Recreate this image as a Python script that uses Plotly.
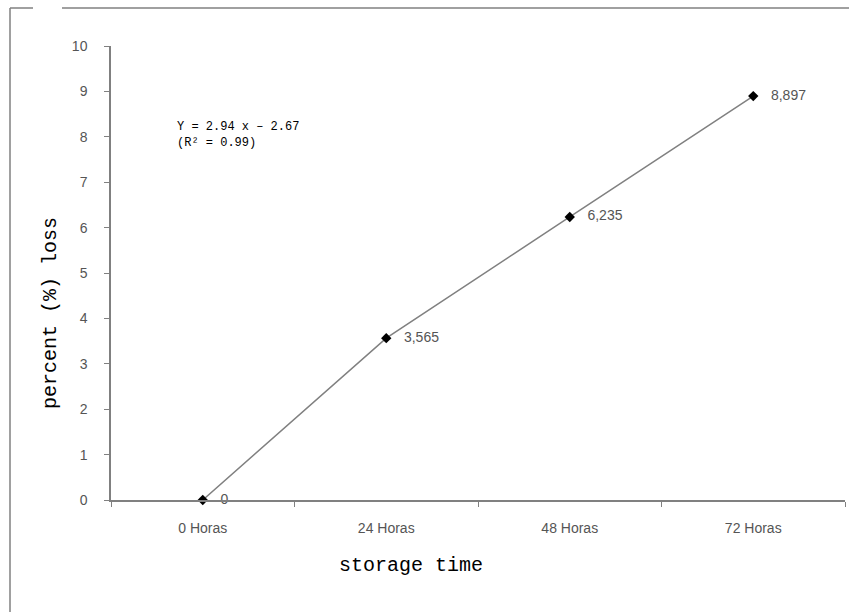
import plotly.graph_objects as go

categories = ["0 Horas", "24 Horas", "48 Horas", "72 Horas"]
loss = [0, 3.565, 6.235, 8.897]
labels = ["0", "3,565", "6,235", "8,897"]
y_ticks = list(range(0, 11))

fig = go.Figure()
fig.add_trace(go.Scatter(
    x=categories, y=loss, mode="lines+markers+text",
    line=dict(color="#808080", width=1.5),
    marker=dict(symbol="diamond", size=8, color="black"),
    text=["   " + t for t in labels], textposition="middle right",
    textfont=dict(family="Liberation Sans, Arial", size=14, color="#555555"),
    cliponaxis=False, showlegend=False,
))

fig.update_xaxes(
    type="category", range=[-0.5, 3.5], tickson="boundaries",
    ticks="outside", ticklen=5, tickcolor="#808080", ticklabelstandoff=14,
    showline=True, linecolor="#808080", linewidth=1.5,
    showgrid=False, zeroline=False,
    tickfont=dict(family="Liberation Sans, Arial", size=14, color="#555555"),
)
fig.update_yaxes(
    range=[0, 10], tickvals=y_ticks, ticks="outside", ticklen=5, tickcolor="#808080",
    ticklabelstandoff=14,
    showline=True, linecolor="#808080", linewidth=1.5,
    showgrid=False, zeroline=False,
    tickfont=dict(family="Liberation Sans, Arial", size=14, color="#555555"),
)

fx = lambda px: (px - 111) / 734
fy = lambda py: (500 - py) / 454

title_font = dict(family="Liberation Mono, Courier New", size=20, color="black")
fig.add_annotation(xref="paper", yref="paper", x=fx(411), y=fy(565), text="storage time",
                   showarrow=False, font=title_font, xanchor="center", yanchor="middle")
fig.add_annotation(xref="paper", yref="paper", x=fx(50), y=fy(313), text="percent (%) loss",
                   showarrow=False, font=title_font, textangle=-90, xanchor="center", yanchor="middle")

fig.add_annotation(
    xref="paper", yref="paper", x=fx(175), y=fy(118),
    xanchor="left", yanchor="top", align="left", showarrow=False,
    text="Y = 2.94 x \u2013 2.67<br>(R\u00b2 = 0.99)",
    font=dict(family="Liberation Mono, Courier New", size=12, color="black"),
)

frame = dict(color="#808080", width=1.5)
fig.add_shape(type="line", xref="paper", yref="paper", x0=fx(10), x1=fx(10), y0=fy(8), y1=fy(620), line=frame)
fig.add_shape(type="line", xref="paper", yref="paper", x0=fx(10), x1=fx(33), y0=fy(8), y1=fy(8), line=frame)
fig.add_shape(type="line", xref="paper", yref="paper", x0=fx(62), x1=fx(860), y0=fy(8), y1=fy(8), line=frame)

fig.update_layout(
    width=849, height=612,
    margin=dict(l=111, r=4, t=46, b=112),
    paper_bgcolor="white", plot_bgcolor="white",
)

fig.write_html("out.html")
